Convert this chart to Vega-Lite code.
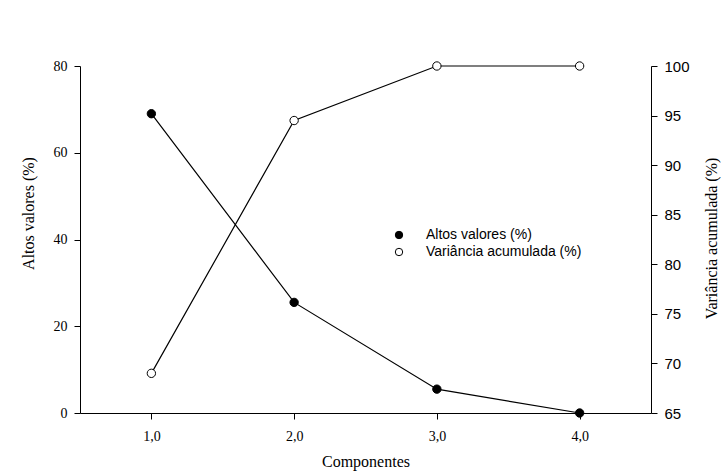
{
  "$schema": "https://vega.github.io/schema/vega-lite/v6.json",
  "autosize": {"type": "none"},
  "padding": {"left": 80, "top": 66, "right": 73, "bottom": 58},
  "width": 571,
  "height": 347,
  "background": "white",
  "config": {
    "view": {"stroke": null},
    "axis": {
      "grid": false,
      "domainColor": "black",
      "tickColor": "black",
      "domainWidth": 1,
      "tickWidth": 1,
      "tickSize": 6,
      "labelColor": "black",
      "titleColor": "black",
      "titleFontWeight": "normal"
    }
  },
  "data": {
    "values": [
      {"componente": 1, "valor": 69.0, "serie": "Altos valores (%)"},
      {"componente": 2, "valor": 25.5, "serie": "Altos valores (%)"},
      {"componente": 3, "valor": 5.5, "serie": "Altos valores (%)"},
      {"componente": 4, "valor": 0.0, "serie": "Altos valores (%)"},
      {"componente": 1, "valor": 69.0, "serie": "Variância acumulada (%)"},
      {"componente": 2, "valor": 94.5, "serie": "Variância acumulada (%)"},
      {"componente": 3, "valor": 100.0, "serie": "Variância acumulada (%)"},
      {"componente": 4, "valor": 100.0, "serie": "Variância acumulada (%)"}
    ]
  },
  "encoding": {
    "x": {
      "field": "componente",
      "type": "quantitative",
      "scale": {"domain": [0.5, 4.5], "nice": false, "zero": false},
      "axis": {
        "title": "Componentes",
        "values": [1, 2, 3, 4],
        "labelExpr": "replace(format(datum.value, '.1f'), '.', ',')",
        "labelFont": "Liberation Serif",
        "labelFontSize": 14,
        "labelPadding": 10,
        "titleFont": "Liberation Serif",
        "titleFontSize": 16,
        "titlePadding": 10
      }
    }
  },
  "layer": [
    {
      "transform": [{"filter": "datum.serie === 'Altos valores (%)'"}],
      "encoding": {
        "y": {
          "field": "valor",
          "type": "quantitative",
          "scale": {"domain": [0, 80], "nice": false},
          "axis": {
            "orient": "left",
            "title": "Altos valores (%)",
            "values": [0, 20, 40, 60, 80],
            "labelFont": "Liberation Serif",
            "labelFontSize": 14,
            "labelPadding": 7,
            "titleFont": "Liberation Serif",
            "titleFontSize": 16,
            "titleX": -44,
            "titleY": 147
          }
        }
      },
      "layer": [
        {"mark": {"type": "line", "color": "black", "strokeWidth": 1.2}},
        {
          "mark": {"type": "point", "shape": "circle", "filled": true, "size": 70, "stroke": "black", "strokeWidth": 1, "opacity": 1},
          "encoding": {
            "fill": {
              "field": "serie",
              "type": "nominal",
              "scale": {"domain": ["Altos valores (%)", "Variância acumulada (%)"], "range": ["black", "white"]},
              "legend": {
                "title": null,
                "orient": "none",
                "legendX": 312,
                "legendY": 162,
                "padding": 0,
                "symbolType": "circle",
                "symbolSize": 55,
                "symbolStrokeColor": "black",
                "symbolStrokeWidth": 1,
                "labelFont": "Liberation Sans",
                "labelFontSize": 14,
                "labelColor": "black",
                "labelOffset": 20,
                "rowPadding": 3
              }
            }
          }
        }
      ]
    },
    {
      "transform": [{"filter": "datum.serie === 'Variância acumulada (%)'"}],
      "encoding": {
        "y": {
          "field": "valor",
          "type": "quantitative",
          "scale": {"domain": [65, 100], "nice": false, "zero": false},
          "axis": {
            "orient": "right",
            "title": "Variância acumulada (%)",
            "values": [65, 70, 75, 80, 85, 90, 95, 100],
            "labelFont": "Liberation Sans",
            "labelFontSize": 15,
            "labelPadding": 7,
            "titleFont": "Liberation Serif",
            "titleFontSize": 16,
            "titleAngle": 270,
            "titleBaseline": "top",
            "titleX": 52,
            "titleY": 172
          }
        }
      },
      "layer": [
        {"mark": {"type": "line", "color": "black", "strokeWidth": 1.2}},
        {
          "mark": {"type": "point", "shape": "circle", "filled": true, "size": 70, "stroke": "black", "strokeWidth": 1, "opacity": 1},
          "encoding": {
            "fill": {"field": "serie", "type": "nominal"}
          }
        }
      ]
    }
  ],
  "resolve": {"scale": {"y": "independent"}}
}
